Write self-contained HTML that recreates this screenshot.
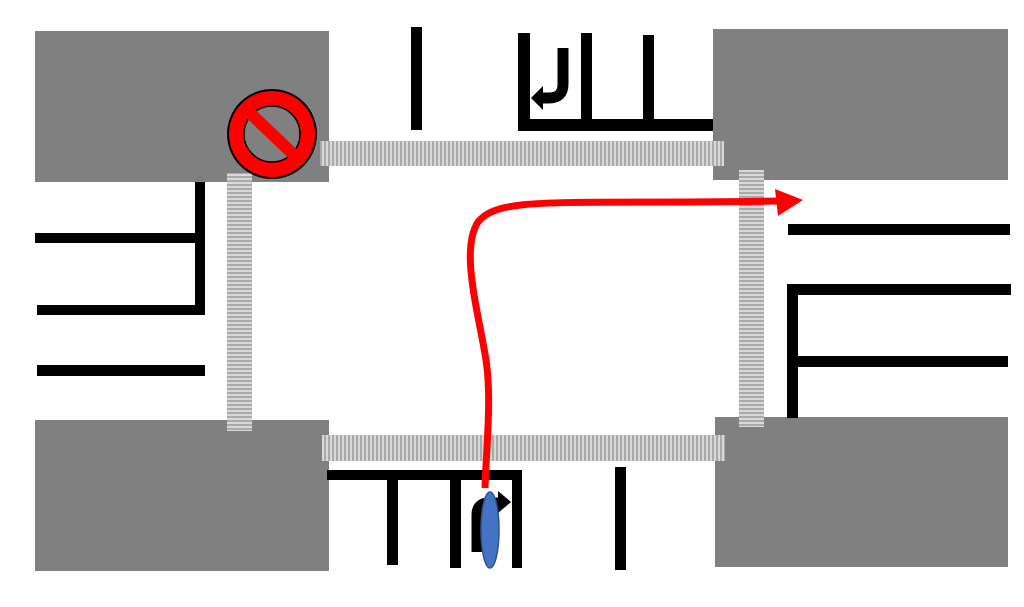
<!DOCTYPE html>
<html><head><style>html,body{margin:0;padding:0;background:#fff}svg{display:block}</style></head>
<body>
<svg width="1024" height="607" viewBox="0 0 1024 607" xmlns="http://www.w3.org/2000/svg">
<defs>
<pattern id="ph" width="4" height="10" patternUnits="userSpaceOnUse"><rect width="4" height="10" fill="#d9d9d9"/><rect width="2" height="10" fill="#aaa"/></pattern>
<pattern id="pv" width="10" height="4" patternUnits="userSpaceOnUse"><rect width="10" height="4" fill="#d9d9d9"/><rect width="10" height="2" fill="#aaa"/></pattern>
</defs>
<g fill="#808080">
<rect x="35" y="31" width="294" height="151"/>
<rect x="35" y="420" width="294" height="151"/>
<rect x="713" y="29" width="295" height="151"/>
<rect x="715" y="417" width="293" height="150"/>
</g>
<rect x="320" y="141" width="404" height="25" fill="url(#ph)"/>
<rect x="322" y="435" width="403" height="26" fill="url(#ph)"/>
<rect x="227" y="173" width="25" height="258" fill="url(#pv)"/>
<rect x="739" y="170" width="25" height="257" fill="url(#pv)"/>
<g fill="#000">
<rect x="411" y="27" width="11" height="103"/>
<rect x="518" y="33" width="12" height="98"/>
<rect x="518" y="119" width="195" height="12"/>
<rect x="581" y="33" width="11" height="90"/>
<rect x="643" y="35" width="11" height="88"/>
<rect x="35" y="233" width="170" height="10"/>
<rect x="195" y="182" width="10" height="133"/>
<rect x="37" y="305" width="168" height="10"/>
<rect x="37" y="365" width="168" height="11"/>
<rect x="788" y="224" width="222" height="11"/>
<rect x="787" y="285" width="11" height="133"/>
<rect x="787" y="284" width="224" height="11"/>
<rect x="787" y="356" width="221" height="11"/>
<rect x="327" y="470" width="195" height="10"/>
<rect x="387" y="470" width="11" height="95"/>
<rect x="450" y="470" width="11" height="98"/>
<rect x="512" y="470" width="10" height="98"/>
<rect x="615" y="467" width="11" height="103"/>
</g>
<path d="M563 48 V84 Q563 98 549 98 H540" stroke="#000" stroke-width="11" fill="none"/>
<polygon points="531,98 543,86 543,110" fill="#000"/>
<path d="M477 552 V515 Q477 503 489 503 H500" stroke="#000" stroke-width="11" fill="none"/>
<polygon points="511,502 498,491 498,513" fill="#000"/>
<ellipse cx="490" cy="530" rx="9" ry="38" fill="#4472c4" stroke="#2f528f" stroke-width="1.5"/>
<path d="M485 488 C486 450 492 400 486 360 C478 310 460 250 478 222 C500 195 560 205 780 201" stroke="#f00" stroke-width="7" fill="none"/>
<polygon points="775,189 803,200 778,216" fill="#f00"/>
<circle cx="272" cy="134" r="44" fill="#f00" stroke="#000" stroke-width="2"/>
<circle cx="272" cy="134" r="28" fill="#808080" stroke="#000" stroke-width="1.5"/>
<line x1="251" y1="114" x2="293" y2="154" stroke="#f00" stroke-width="12"/>
</svg>
</body></html>
